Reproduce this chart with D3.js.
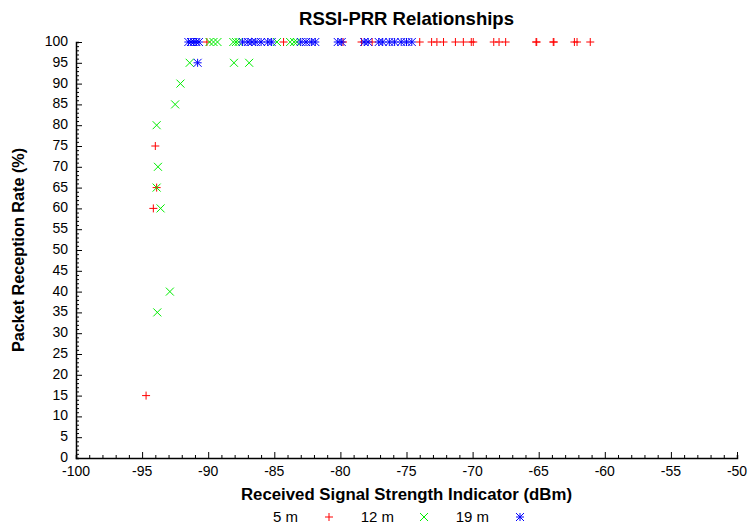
<!DOCTYPE html>
<html><head><meta charset="utf-8">
<script src="https://cdn.jsdelivr.net/npm/d3@7"></script>
<style>body{margin:0;background:#fff}svg{display:block}text{font-family:"Liberation Sans",Arial,sans-serif}</style>
</head><body>
<svg id="c" width="748" height="525"></svg>
<script>
const title = "RSSI-PRR Relationships";
const xLabel = "Received Signal Strength Indicator (dBm)";
const yLabel = "Packet Reception Rate (%)";
const seriesNames = ["5 m", "12 m", "19 m"];
const seriesColors = ["#ff0000", "#00ee00", "#0000ff"];
const xTicks = [-100,-95,-90,-85,-80,-75,-70,-65,-60,-55,-50];
const yTicks = [0,5,10,15,20,25,30,35,40,45,50,55,60,65,70,75,80,85,90,95,100];

const red5 = [
[-94.7,15],[-94.15,60],[-93.9,65],[-94.0,75],
[-90.1,100],[-84.3,100],[-79.8,100],[-78.4,100],[-77.6,100],[-74.0,100],[-73.1,100],[-72.7,100],[-72.2,100],[-71.3,100],[-70.7,100],[-70.1,100],[-69.95,100],[-68.4,100],[-68.0,100],[-67.5,100],[-65.2,100],[-65.15,100],[-63.9,100],[-63.85,100],[-62.3,100],[-62.1,100],[-61.1,100]
];
const green12 = [
[-93.85,35],[-92.9,40],[-93.6,60],[-93.9,65],[-93.8,70],[-93.9,80],[-92.5,85],[-92.1,90],[-91.4,95],[-88.05,95],[-86.9,95],
[-89.9,100],[-89.6,100],[-89.3,100],[-88.1,100],[-87.9,100],[-87.7,100],[-84.8,100],[-83.8,100],[-83.5,100],[-83.3,100]
];
const blue19 = [
[-90.8,95],
[-91.5,100],[-91.3,100],[-91.1,100],[-90.9,100],[-90.7,100],
[-87.4,100],[-87.0,100],[-86.7,100],[-86.4,100],[-86.0,100],
[-85.5,100],[-85.2,100],
[-83.0,100],[-82.6,100],[-82.2,100],[-81.9,100],
[-80.2,100],[-79.9,100],
[-78.2,100],[-77.9,100],
[-77.1,100],[-76.8,100],
[-76.3,100],[-75.9,100],
[-75.4,100],[-75.0,100],[-74.6,100]
];
const allSeries = [red5, green12, blue19];

const svg = d3.select("#c");
const L = 76, R = 737, T = 42, B = 458;
const x = d3.scaleLinear().domain([-100,-50]).range([L,R]);
const y = d3.scaleLinear().domain([0,100]).range([B,T]);

const gx = svg.append("g").attr("transform",`translate(0,${B})`);
gx.call(d3.axisBottom(x).tickValues(d3.range(-100,-49,1)).tickSize(-3).tickFormat(""));
gx.call(g=>g.selectAll(".tick line").filter(d=>d%5===0).attr("y2",-6));
xTicks.forEach(v=>{
  svg.append("text").attr("x",x(v)).attr("y",B+18).attr("text-anchor","middle").attr("font-size",14).text(v);
});
const gy = svg.append("g").attr("transform",`translate(${L},0)`);
gy.call(d3.axisLeft(y).tickValues(d3.range(0,101,1)).tickSize(-3).tickFormat(""));
gy.call(g=>g.selectAll(".tick line").filter(d=>d%5===0).attr("x2",6));
yTicks.forEach(v=>{
  svg.append("text").attr("x",L-8).attr("y",y(v)+4).attr("text-anchor","end").attr("font-size",14).text(v);
});
svg.selectAll(".domain").attr("stroke","#000").attr("stroke-width",1.5);

svg.append("text").attr("x",(L+R)/2).attr("y",25).attr("text-anchor","middle").attr("font-size",18.5).attr("font-weight","bold").text(title);
svg.append("text").attr("x",(L+R)/2).attr("y",500).attr("text-anchor","middle").attr("font-size",16.8).attr("font-weight","bold").text(xLabel);
svg.append("text").attr("transform",`translate(24,${(T+B)/2}) rotate(-90)`).attr("text-anchor","middle").attr("font-size",16.2).attr("font-weight","bold").text(yLabel);

const s = 4;
function marker(g, type, color){
  const p = [];
  if(type===0||type===2) p.push(`M${-s},0H${s}M0,${-s}V${s}`);
  if(type===1||type===2) p.push(`M${-s},${-s}L${s},${s}M${-s},${s}L${s},${-s}`);
  g.append("path").attr("d",p.join("")).attr("stroke",color).attr("stroke-width",1).attr("fill","none");
}
allSeries.forEach((data,i)=>{
  data.forEach(d=>{
    const g = svg.append("g").attr("transform",`translate(${x(d[0])},${y(d[1])})`);
    marker(g,i,seriesColors[i]);
  });
});
const legX = [[298,329],[394,424],[489,520]];
seriesNames.forEach((n,i)=>{
  svg.append("text").attr("x",legX[i][0]).attr("y",522).attr("text-anchor","end").attr("font-size",15).text(n);
  const g = svg.append("g").attr("transform",`translate(${legX[i][1]},517)`);
  marker(g,i,seriesColors[i]);
});
</script>
</body></html>
